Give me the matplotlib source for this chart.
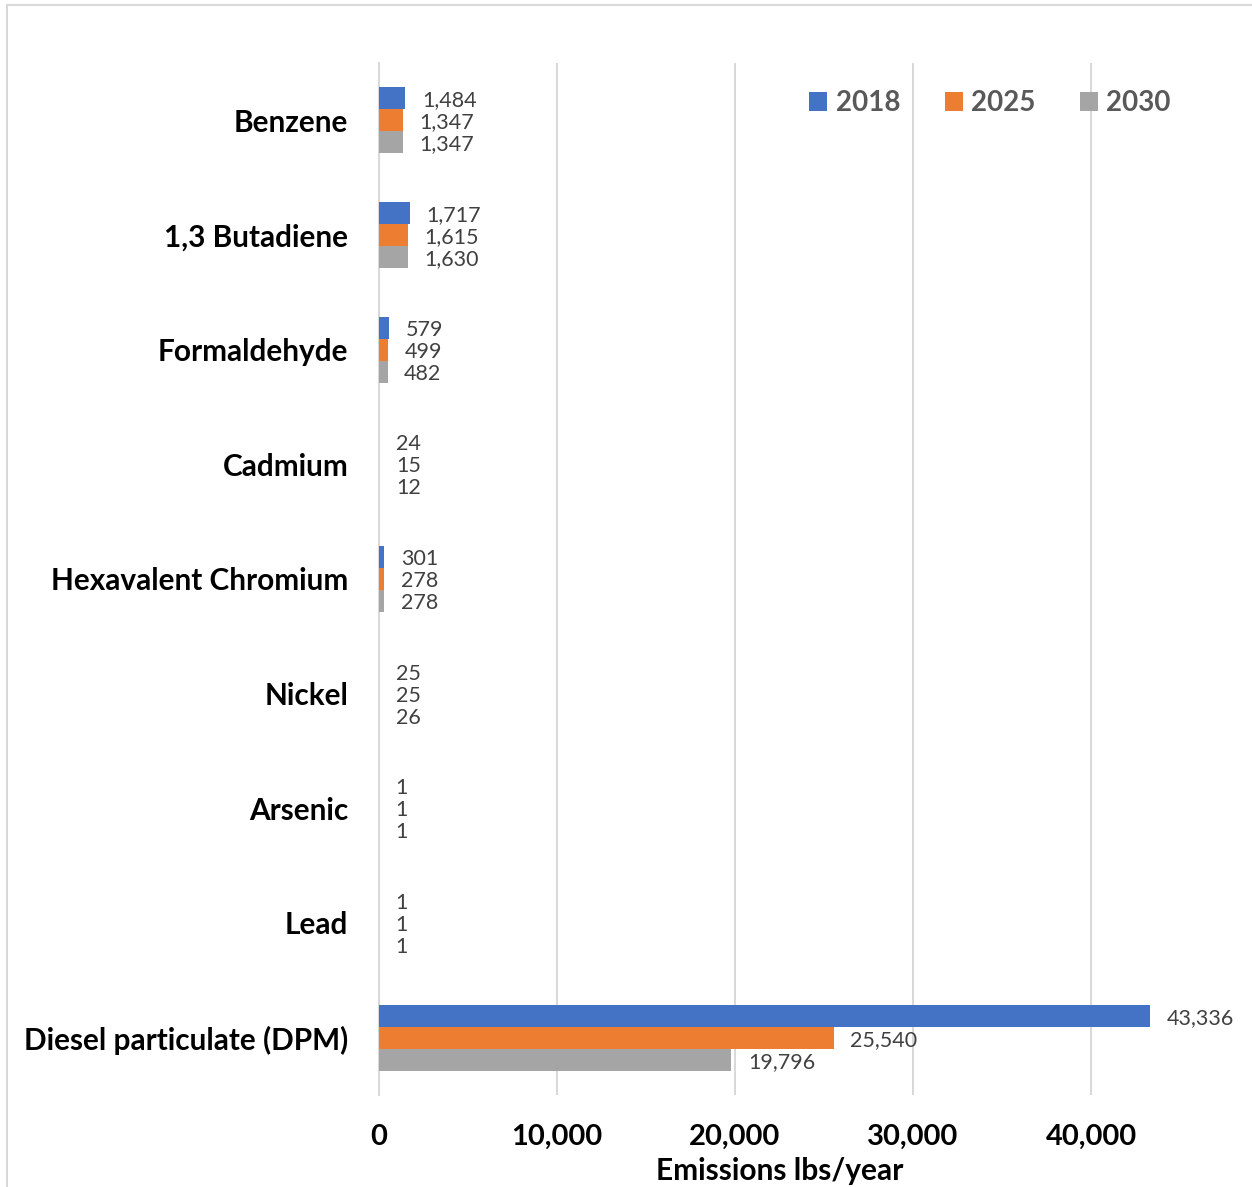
import matplotlib
matplotlib.use("Agg")
import matplotlib.pyplot as plt
from matplotlib.patches import Rectangle
import numpy as np

categories = ["Benzene", "1,3 Butadiene", "Formaldehyde", "Cadmium",
              "Hexavalent Chromium", "Nickel", "Arsenic", "Lead",
              "Diesel particulate (DPM)"]
series_names = ["2018", "2025", "2030"]
v2018 = [1484, 1717, 579, 24, 301, 25, 1, 1, 43336]
v2025 = [1347, 1615, 499, 15, 278, 25, 1, 1, 25540]
v2030 = [1347, 1630, 482, 12, 278, 26, 1, 1, 19796]
colors = ["#4472C4", "#ED7D31", "#A5A5A5"]
xticks = [0, 10000, 20000, 30000, 40000]

plt.rcParams['font.family'] = ['Lato', 'DejaVu Sans']

W, H = 1252, 1187
fig = plt.figure(figsize=(W / 100, H / 100), dpi=100)
fig.patch.set_facecolor("white")

# outer chart border
fig.patches.append(Rectangle((7 / W, -0.1), 1.2, 1 - 5 / H + 0.1,
                             transform=fig.transFigure, fill=False,
                             edgecolor="#D9D9D9", linewidth=1.5))

left, right, top, bottom = 379, 1252, 63, 1095
ax = fig.add_axes([left / W, 1 - bottom / H, (right - left) / W, (bottom - top) / H])

n = len(categories)
y = np.arange(n)
bh = 0.192
all_vals = [v2018, v2025, v2030]
for i, (vals, name, c) in enumerate(zip(all_vals, series_names, colors)):
    pos = y + (i - 1) * bh
    ax.barh(pos, vals, height=bh, color=c, label=name, zorder=3)
    for p, v in zip(pos, vals):
        ax.annotate(f"{v:,}", xy=(v, p), xytext=(12, -1.5), textcoords="offset points",
                    ha="left", va="center", fontsize=15.5, color="#404040", zorder=4)

ax.set_ylim(n - 0.5, -0.5)
ax.set_xlim(0, (right - left) / 178.0 * 10000)
ax.set_yticks(y)
ax.set_yticklabels(categories, fontsize=21.4, fontweight="bold", color="black")
ax.set_xticks(xticks)
ax.set_xticklabels([f"{t:,}" for t in xticks], fontsize=21, fontweight="bold", color="black")
ax.tick_params(axis="y", length=0, pad=22)
ax.tick_params(axis="x", length=0, pad=21)
ax.grid(axis="x", color="#D9D9D9", linewidth=1.5, zorder=0)
for s in ["top", "right", "bottom"]:
    ax.spines[s].set_visible(False)
ax.spines["left"].set_color("#D9D9D9")
ax.spines["left"].set_linewidth(1.5)
ax.set_xlabel("Emissions lbs/year", fontsize=21.5, fontweight="bold", color="black")
ax.xaxis.set_label_coords((780 - left) / (right - left), -(1171 - bottom) / (bottom - top), transform=ax.transAxes)
ax.xaxis.label.set_va("center")

leg = ax.legend(loc="center", bbox_to_anchor=(990 / W, 1 - 103 / H),
                bbox_transform=fig.transFigure, ncol=3, frameon=False,
                prop={"size": 20, "weight": "bold"}, labelcolor="#595959",
                handlelength=0.65, handleheight=0.65, handletextpad=0.3,
                columnspacing=1.6)

fig.savefig("out.png", dpi=100)
